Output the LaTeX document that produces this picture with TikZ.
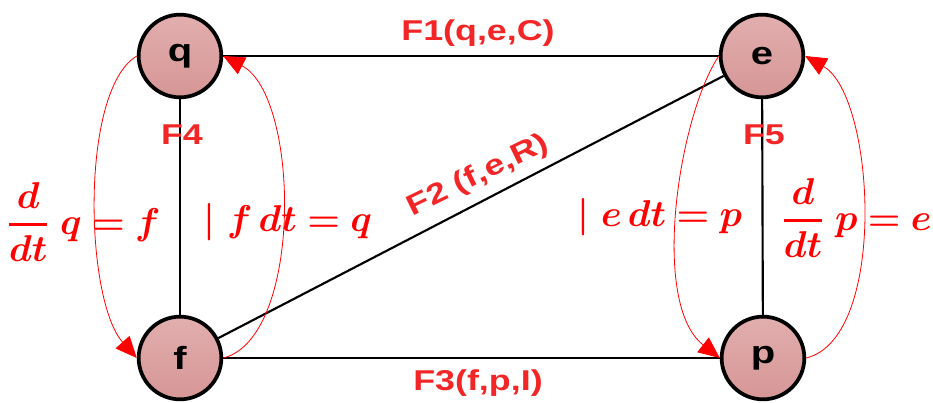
\RequirePackage{fix-cm}
\documentclass[tikz,border=0pt]{standalone}
\usepackage{amsmath}
\usepackage{fontspec}
\usepackage{bm}
\usetikzlibrary{arrows.meta}
\newfontfamily\lblfont{Liberation Sans}[FakeStretch=1.25]
\definecolor{lblred}{RGB}{242,38,38}
\definecolor{nodetop}{RGB}{226,174,174}
\definecolor{nodebot}{RGB}{214,150,150}
\begin{document}
\begin{tikzpicture}[x=0.75pt,y=-0.75pt,
    state/.style={circle,draw,line width=2.8pt,minimum size=62pt,inner sep=0pt,
      top color=nodetop,bottom color=nodebot,font=\lblfont\bfseries\fontsize{24}{28}\selectfont},
    bond/.style={line width=1.6pt},
    flow/.style={red,line width=0.6pt,-{Triangle[length=16pt,width=14pt]}},
    flabel/.style={text=lblred,font=\lblfont\bfseries\fontsize{21.5}{25}\selectfont},
    eqn/.style={text=red,font=\fontsize{28}{33}\selectfont}]
  \useasboundingbox (0,0) rectangle (933,403);
  % the four states
  \node[state] (q) at (180,56) {q};
  \node[state] (e) at (762,56) {e};
  \node[state] (f) at (180,358) {f};
  \node[state] (p) at (763,358) {p};
  % bonds
  \draw[bond] (e) -- (q);
  \draw[bond] (q) -- (f);
  \draw[bond] (e) -- (p);
  \draw[bond] (f) -- (p);
  \draw[bond] (f) -- (e);
  % relations
  \draw[flow] (q.west) .. controls +(-57,34) and +(-52,-58) .. (f.west);
  \draw[flow] (f.east) .. controls +(80,-20) and +(77,40) .. (q.east);
  \draw[flow] (e.west) .. controls +(-40,60) and +(-70,-55) .. (p.west);
  \draw[flow] (p.east) .. controls +(82,-20) and +(70,40) .. (e.east);
  % labels
  \node[flabel] (F1) at (478,33) {F1(q,e,C)};
  \node[flabel,rotate=26] (F2) at (478,176) {F2 (f,e,R)};
  \node[flabel] (F3) at (478,383) {F3(f,p,I)};
  \node[flabel] (F4) at (182,135) {F4};
  \node[flabel] (F5) at (764,135) {F5};
  \node[eqn] (dq) at (84,222) {$\genfrac{}{}{2.2pt}{0}{\bm{d}}{\bm{dt}}\ \bm{q = f}$};
  \node[eqn] (intf) at (288,222) {$\bm{|\ f\,dt = q}$};
  \node[eqn] (inte) at (660,217) {$\bm{|\ e\,dt = p}$};
  \node[eqn] (dp) at (857,218) {$\genfrac{}{}{2.2pt}{0}{\bm{d}}{\bm{dt}}\ \bm{p = e}$};
\end{tikzpicture}
\end{document}
